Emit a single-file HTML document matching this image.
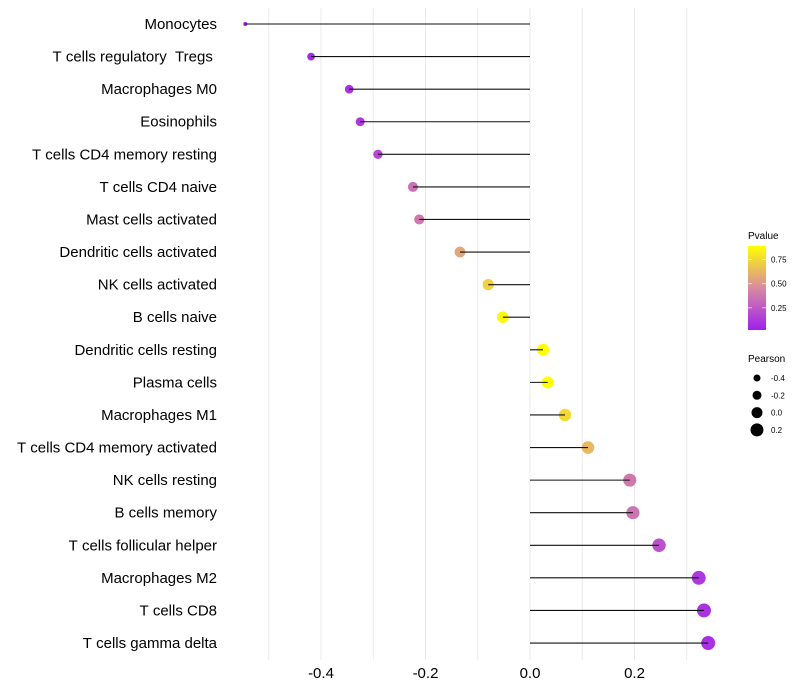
<!DOCTYPE html>
<html><head><meta charset="utf-8"><style>body{margin:0;background:#fff}svg{display:block;font-family:"Liberation Sans",sans-serif}</style></head>
<body>
<svg id="chart" width="800" height="700" xmlns="http://www.w3.org/2000/svg"></svg>
<script>
const categories=["Monocytes","T cells regulatory  Tregs ","Macrophages M0","Eosinophils","T cells CD4 memory resting","T cells CD4 naive","Mast cells activated","Dendritic cells activated","NK cells activated","B cells naive","Dendritic cells resting","Plasma cells","Macrophages M1","T cells CD4 memory activated","NK cells resting","B cells memory","T cells follicular helper","Macrophages M2","T cells CD8","T cells gamma delta"];
const pearson=[-0.545,-0.419,-0.346,-0.325,-0.291,-0.224,-0.212,-0.134,-0.080,-0.052,0.025,0.034,0.067,0.111,0.191,0.197,0.247,0.323,0.333,0.341];
const pvalue=[0.03,0.05,0.10,0.12,0.18,0.35,0.38,0.56,0.72,0.86,0.93,0.93,0.75,0.63,0.38,0.36,0.22,0.12,0.10,0.09];
const xTicks=[-0.4,-0.2,0.0,0.2];
const xTickLabels=["-0.4","-0.2","0.0","0.2"];
const pTicks=[0.25,0.50,0.75];
const sizeTicks=[-0.4,-0.2,0.0,0.2];

const NS="http://www.w3.org/2000/svg";
const svg=document.getElementById('chart');
function mk(t,a,p){const e=document.createElementNS(NS,t);for(const k in a)e.setAttribute(k,a[k]);(p||svg).appendChild(e);return e;}
const x=v=>530+v*522.5;
const y=i=>24+i*32.58;
const rad=v=>2+5*Math.sqrt(Math.max(0,v+0.545)/0.886);
const stops=[[0,[160,32,240]],[0.5,[216,138,160]],[1,[255,255,0]]];
function col(p){let t=(p-0.02)/0.87;t=Math.max(0,Math.min(1,t));let a=stops[0],b=stops[1];if(t>0.5){a=stops[1];b=stops[2];}const f=(t-a[0])/(b[0]-a[0]);const c=a[1].map((v,k)=>Math.round(v+(b[1][k]-v)*f));return `rgb(${c})`;}

const grid=mk('g',{});


for(let v=-0.5;v<=0.35;v+=0.1){const gx=x(v);const l=mk('line',{x1:gx,x2:gx,y1:8,y2:660,stroke:'#ebebeb','stroke-width':1},grid);

}

categories.forEach((c,i)=>{
  const g=mk('g',{});
  
  
  const cy=y(i);
  const d=mk('circle',{cx:x(pearson[i]),cy:cy,r:rad(pearson[i]),fill:col(pvalue[i])},g);
  
  
  const s=mk('line',{x1:x(0),x2:x(pearson[i]),y1:cy,y2:cy,stroke:'#111','stroke-width':1.1},g);
  
  
  const t=mk('text',{x:217,y:cy+5,'text-anchor':'end','font-size':15,fill:'#000'},g);
  t.textContent=c.replace(/ /g,'\u00a0');
  
  
});
xTicks.forEach((v,i)=>{const t=mk('text',{x:x(v),y:678,'text-anchor':'middle','font-size':15,fill:'#000'});t.textContent=xTickLabels[i];

});

const lg=mk('g',{});


const lt=mk('text',{x:748,y:239,'font-size':10,fill:'#000'},lg);lt.textContent='Pvalue';
const defs=mk('defs',{},lg);const gr=mk('linearGradient',{id:'pg',x1:0,y1:1,x2:0,y2:0},defs);
for(let k=0;k<=10;k++){const p=0.02+k*0.087;mk('stop',{offset:k/10,'stop-color':col(p)},gr);}
mk('rect',{x:748,y:246,width:18,height:84,fill:'url(#pg)'},lg);
pTicks.forEach(p=>{const py=330-(p-0.02)/0.87*84;mk('line',{x1:748,x2:752,y1:py,y2:py,stroke:'#fff','stroke-opacity':0.6},lg);mk('line',{x1:762,x2:766,y1:py,y2:py,stroke:'#fff','stroke-opacity':0.6},lg);
const t=mk('text',{x:771,y:py+3,'font-size':8,fill:'#000'},lg);t.textContent=p.toFixed(2);});

const sg=mk('g',{});


const st=mk('text',{x:748,y:362,'font-size':10,fill:'#000'},sg);st.textContent='Pearson';
const lr=[3.5,4.5,5.5,6.5];
sizeTicks.forEach((v,i)=>{const sy=378+i*17.3;mk('circle',{cx:757,cy:sy,r:lr[i],fill:'#000'},sg);
const t=mk('text',{x:771,y:sy+3,'font-size':8,fill:'#000'},sg);t.textContent=v.toFixed(1);});
</script>
</body></html>
